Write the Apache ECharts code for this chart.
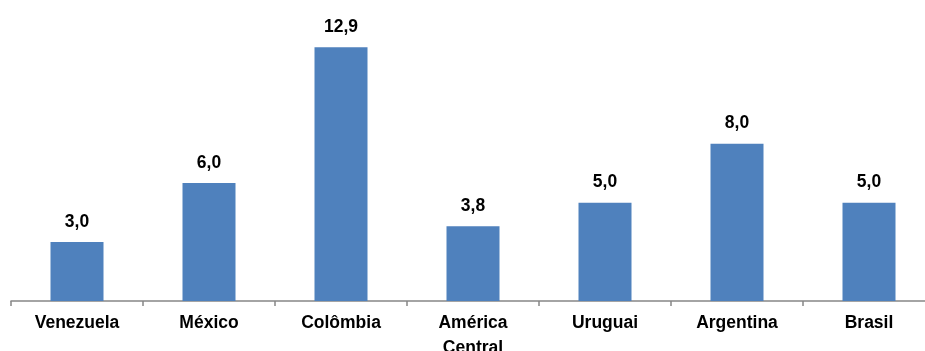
<!DOCTYPE html>
<html><head><meta charset="utf-8">
<script src="https://cdn.jsdelivr.net/npm/echarts@6/dist/echarts.min.js"></script>
<style>html,body{margin:0;padding:0;background:#fff}#c{width:925px;height:351px}</style>
</head><body><div id="c"></div>
<script>
var categories = ['Venezuela', 'México', 'Colômbia', 'América\nCentral', 'Uruguai', 'Argentina', 'Brasil'];
var values = [3.0, 6.0, 12.9, 3.8, 5.0, 8.0, 5.0];

var chart = echarts.init(document.getElementById('c'), null, {renderer: 'canvas'});
chart.setOption({
  animation: false,
  grid: {left: 11, width: 924, top: 6, height: 295, containLabel: false, outerBoundsMode: 'none'},
  xAxis: {
    type: 'category',
    data: categories,
    axisLine: {lineStyle: {color: '#868686', width: 1.5}},
    axisTick: {show: true, length: 5, lineStyle: {color: '#868686', width: 1.5}},
    axisLabel: {color: '#000', fontFamily: 'Liberation Sans, Arial', fontWeight: 'bold', fontSize: 17.5, margin: 10, lineHeight: 24.5, interval: 0}
  },
  yAxis: {type: 'value', min: 0, max: 15, show: false, splitLine: {show: false}},
  series: [{
    type: 'bar',
    data: values,
    barWidth: 53,
    itemStyle: {color: '#4F81BD'},
    label: {
      show: true, position: 'top', distance: 11,
      color: '#000', fontFamily: 'Liberation Sans, Arial', fontWeight: 'bold', fontSize: 17.5,
      formatter: function (p) { return p.value.toFixed(1).replace('.', ','); }
    }
  }]
});
</script></body></html>
